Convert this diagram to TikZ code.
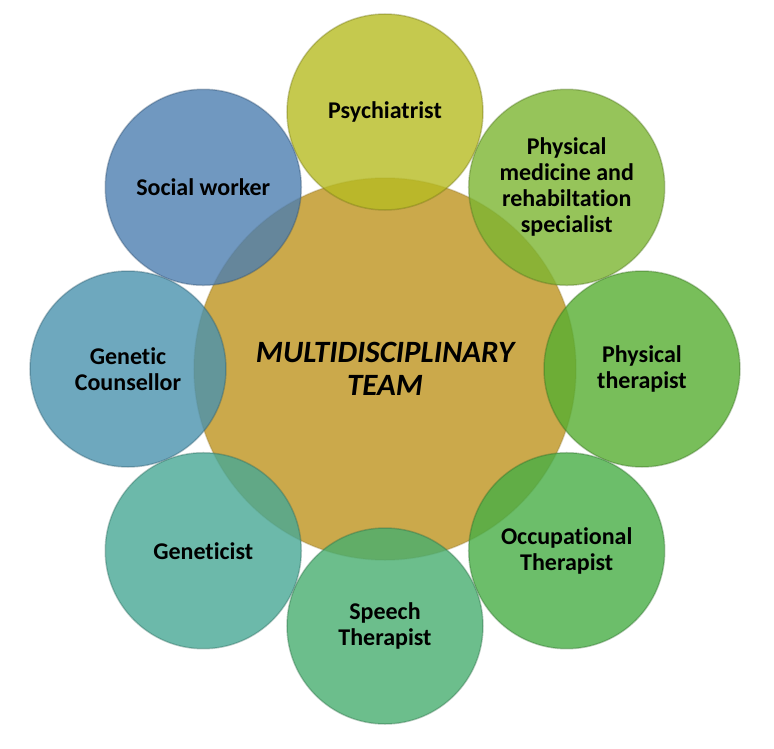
\documentclass[tikz,border=0pt]{standalone}
\usepackage{fontspec}
\setmainfont{Carlito}[Ligatures=NoCommon]
\definecolor{teamgold}{HTML}{CBA94B}
\definecolor{psycol}{HTML}{B6BB22}
\definecolor{pmrcol}{HTML}{7CB531}
\definecolor{ptcol}{HTML}{56AE31}
\definecolor{otcol}{HTML}{47AE45}
\definecolor{stcol}{HTML}{47AE6F}
\definecolor{gencol}{HTML}{47A895}
\definecolor{gccol}{HTML}{4A92AE}
\definecolor{swcol}{HTML}{4C7EB0}
\tikzset{
  role/.style={circle,minimum size=196pt,inner sep=0pt,align=center,
    fill=#1,fill opacity=0.8,text opacity=1,draw=#1!60!black,draw opacity=0.35,
    line width=1.5pt,font=\bfseries\fontsize{24}{26}\selectfont},
  team/.style={circle,minimum size=382pt,inner sep=0pt,align=center,
    fill=teamgold,draw=teamgold!70!black,draw opacity=0.3,line width=1.5pt,
    font=\bfseries\itshape\fontsize{31}{33}\selectfont}
}
\begin{document}
\begin{tikzpicture}[x=1pt,y=1pt]
      \useasboundingbox (-385,-379) rectangle (389,369);
      \node[team] (team) at (0,0) {MULTIDISCIPLINARY\\TEAM};
      \draw
        (90:257) node[role=psycol] (psy){Psychiatrist}
        (45:257) node[role=pmrcol] (pmr){Physical\\medicine and\\rehabiltation\\specialist}
        (0:257) node[role=ptcol] (pt){Physical\\therapist}
        (-45:257) node[role=otcol] (ot){Occupational\\Therapist}
        (-90:257) node[role=stcol] (st){Speech\\Therapist}
        (-135:257) node[role=gencol] (gen){Geneticist}
        (180:257) node[role=gccol] (gc){Genetic\\Counsellor}
        (135:257) node[role=swcol] (sw){Social worker};
    \end{tikzpicture}
\end{document}
